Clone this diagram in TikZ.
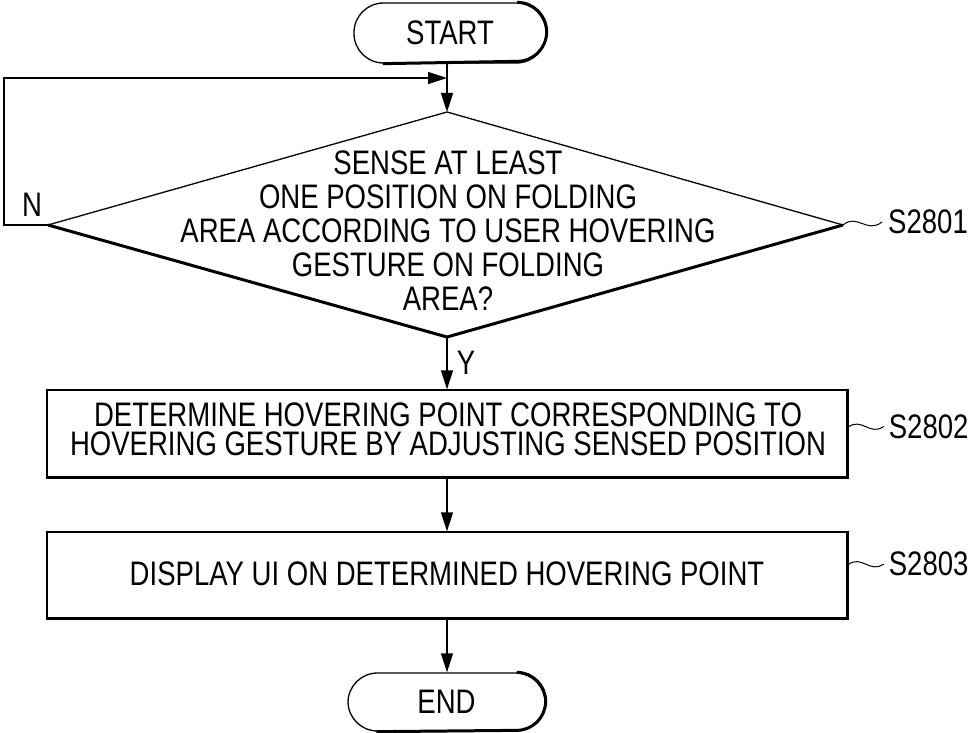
\documentclass[tikz,border=0pt]{standalone}
\usepackage{fontspec}
\setmainfont{Liberation Sans}[FakeStretch=0.81]
\usetikzlibrary{arrows.meta,calc}
\begin{document}
\begin{tikzpicture}[x=1pt,y=-1pt,
  thin line/.style={line width=1.3pt},
  heavy/.style={line width=3pt},
  txt/.style={font=\fontsize{34}{34}\selectfont, inner sep=0pt, align=center},
  oneline/.style={txt, text height=25pt, text depth=1pt},
  term/.style={draw, thin line, rounded corners=29.5pt, inner sep=0pt, font=\fontsize{34}{34}\selectfont},
  stepbox/.style={draw, thin line, minimum width=800pt, inner sep=0pt},
  arr/.style={thin line, -{Triangle[length=19pt,width=12pt]}},
  tilde/.style={line width=1pt},
  lbl/.style={font=\fontsize{34}{34}\selectfont, inner sep=0pt, anchor=west}
]
\useasboundingbox (0,0) rectangle (977,733);

% START
\node[term, minimum width=192pt, minimum height=60pt] (start) at (450,33) {START};
\draw[heavy] ([xshift=-29.5pt]start.north east) arc[start angle=90,end angle=-90,radius=29.5pt] -- ([xshift=29.5pt]start.south west);

% diamond
\coordinate (dn) at (447,112);
\coordinate (dw) at (48,225);
\coordinate (de) at (843,225);
\coordinate (ds) at (447,337);
\draw[thin line, line join=miter] (dw) -- (dn) -- (de);
\draw[heavy, line join=round] (de) -- (ds) -- (dw);
\node[txt] (dtext) at (448,231)
  {SENSE AT LEAST\\ONE POSITION ON FOLDING\\AREA ACCORDING TO USER HOVERING\\GESTURE ON FOLDING\\AREA?};

% boxes
\node[stepbox, minimum height=87pt] (b1) at (447,433.5) {};
\draw[heavy] (b1.north east) -- (b1.south east) -- (b1.south west);
\node[oneline] (b1text) at (448,414) {DETERMINE HOVERING POINT CORRESPONDING TO};
\node[oneline] (b1text2) at (448,443) {HOVERING GESTURE BY ADJUSTING SENSED POSITION};
\node[stepbox, minimum height=86pt] (b2) at (447,575) {};
\draw[heavy] (b2.north east) -- (b2.south east) -- (b2.south west);
\node[oneline] (b2text) at (447,573) {DISPLAY UI ON DETERMINED HOVERING POINT};

% END
\node[term, minimum width=197pt, minimum height=58pt] (end) at (446.5,702) {END};
\draw[heavy] ([xshift=-29pt]end.north east) arc[start angle=90,end angle=-90,radius=29pt] -- ([xshift=29pt]end.south west);

% connectors
\coordinate (merge) at (447,78);
\coordinate (lp1) at (4,225);
\coordinate (lp2) at (4,78);
\draw[arr] (start.south -| dn) -- (dn);
\draw[arr] (dw) -- (lp1) -- (lp2) -- (merge);
\draw[arr] (ds) -- (ds |- b1.north);
\draw[arr] (b1.south) -- (b2.north);
\draw[arr] (b2.south) -- (end.north -| b2.south);

\node[oneline] (nlab) at (32,204) {N};
\node[oneline] (ylab) at (466,362) {Y};

% labels
\draw[tilde] (de) .. controls ($(de)+(14,-12)$) and ($(de)+(24,9)$) .. ($(de)+(39,-3)$) coordinate (t1);
\node[lbl] (s1) at ($(t1)+(6,0)$) {S2801};
\coordinate (b1t) at ([yshift=6pt]b1.east);
\draw[tilde] (b1t) .. controls ($(b1t)+(14,-11)$) and ($(b1t)+(22,9)$) .. ($(b1t)+(36,-1)$) coordinate (t2);
\node[lbl] (s2) at ($(t2)+(5,0)$) {S2802};
\coordinate (b2t) at ([yshift=10pt]b2.east);
\draw[tilde] (b2t) .. controls ($(b2t)+(14,-11)$) and ($(b2t)+(22,9)$) .. ($(b2t)+(36,-1)$) coordinate (t3);
\node[lbl] (s3) at ($(t3)+(5,0)$) {S2803};
\end{tikzpicture}
\end{document}
